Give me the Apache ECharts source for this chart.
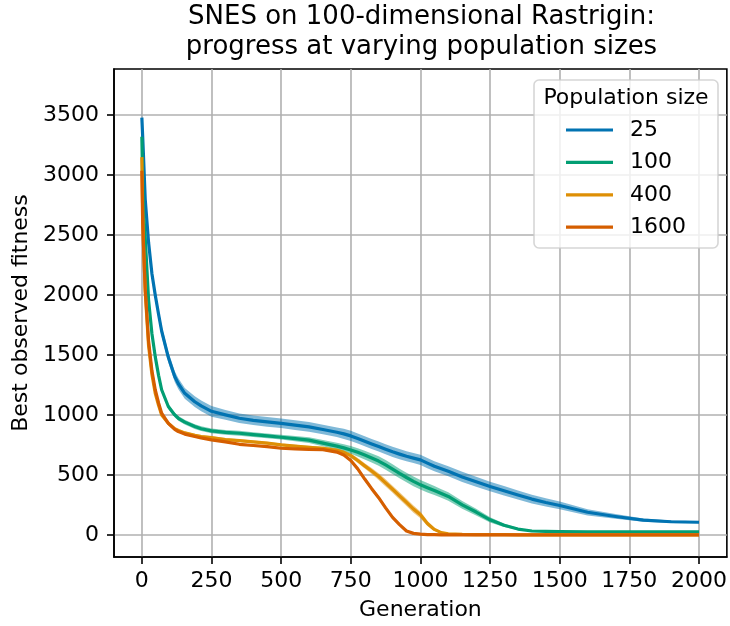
<!DOCTYPE html>
<html>
<head>
<meta charset="utf-8">
<script src="https://cdn.jsdelivr.net/npm/echarts@6/dist/echarts.min.js"></script>
<style>
html,body{margin:0;padding:0;background:#fff;}
#chart{width:730px;height:626px;}
</style>
</head>
<body>
<div id="chart"></div>
<script>
// ---- data ----
const gens = [0,3,6,12,24,36,48,60,71,95,118,131,154,190,213,250,
  300,350,400,450,500,550,600,650,700,
  725,750,775,800,825,850,875,900,925,950,975,1000,1025,1050,1075,1100,
  1150,1200,1250,1300,1350,1400,1450,1500,
  1600,1700,1800,1900,2000];

const pop25 = [3480,3320,3150,2800,2440,2180,2000,1840,1700,1480,1320,1260,1180,1110,1075,1030,
  1000,972,955,942,930,915,900,878,855,
  842,825,803,780,758,736,714,692,673,655,640,625,598,572,551,530,
  483,443,403,368,332,298,270,245,
  188,153,123,109,105];
const pop100 = [3320,2950,2700,2480,1960,1680,1486,1330,1210,1070,1000,972,940,903,885,867,
  855,847,835,825,814,803,790,765,740,
  725,708,688,665,641,615,583,548,512,478,446,417,393,370,345,320,
  250,190,125,80,48,32,28,26,
  25,25,25,25,25];
const pop400 = [3150,2700,2420,2030,1580,1340,1180,1080,1000,930,885,870,850,830,820,810,
  795,786,775,765,750,740,730,722,705,
  688,660,620,575,532,486,433,380,325,270,215,167,95,45,18,9,
  4,2,1,1,0,0,0,0,
  0,0,0,0,0];
const pop1600 = [3036,2600,2400,2050,1620,1370,1210,1100,1014,930,880,861,840,820,808,792,
  775,755,745,736,722,717,713,710,690,
  665,620,550,465,385,310,225,145,85,32,12,6,2,1,0,0,
  0,0,0,0,0,0,0,0,
  0,0,0,0,0];

// half-width of the shaded bands
const spread25 = [60,60,60,55,50,45,45,45,45,45,45,45,45,45,45,45,
  40,40,40,40,40,40,40,40,40,
  42,42,42,42,42,42,42,42,42,42,42,42,42,42,42,42,
  42,42,40,40,38,36,34,32,
  26,20,14,10,8];
const spread100 = [40,40,35,30,25,22,20,20,20,20,20,20,20,20,20,20,
  20,20,20,20,20,22,24,26,28,
  30,32,34,36,38,40,40,40,40,40,40,40,40,38,36,35,
  32,28,22,14,8,5,4,3,
  3,3,3,3,3];
const spread400 = [30,30,25,20,15,12,12,12,12,12,12,12,12,12,12,12,
  12,12,12,12,12,12,12,12,14,
  16,18,20,22,25,28,30,30,30,30,30,28,22,14,8,5,
  2,1,1,1,1,1,1,1,
  1,1,1,1,1];
const spread1600 = [20,20,15,12,10,8,8,8,8,8,8,8,8,8,8,8,
  8,8,8,8,8,8,8,8,8,
  10,12,14,15,15,15,14,12,10,8,5,3,2,1,1,1,
  1,1,1,1,1,1,1,1,
  1,1,1,1,1];

const seriesNames = ['25','100','400','1600'];
const colors = ['#0173b2','#029e73','#de8f05','#d55e00'];
const xTicks = [0,250,500,750,1000,1250,1500,1750,2000];
const yTicks = [0,500,1000,1500,2000,2500,3000,3500];

const titleText = 'SNES on 100-dimensional Rastrigin:\nprogress at varying population sizes';
const FONT = 'DejaVu Sans';

// ---- build ----
const allVals = [pop25, pop100, pop400, pop1600];
const allSpread = [spread25, spread100, spread400, spread1600];

function bandSeries(idx) {
  const vals = allVals[idx], sp = allSpread[idx];
  const data = gens.map((g, i) => [g, vals[i] - sp[i], vals[i] + sp[i]]);
  return {
    type: 'custom',
    silent: true,
    clip: true,
    z: 2 + idx * 2,
    encode: { x: 0, y: [1, 2] },
    data: data,
    renderItem: function (params, api) {
      if (params.dataIndex !== 0) return null;
      const pts = [];
      for (let i = 0; i < data.length; i++) pts.push(api.coord([data[i][0], data[i][2]]));
      for (let i = data.length - 1; i >= 0; i--) pts.push(api.coord([data[i][0], data[i][1]]));
      return {
        type: 'polygon',
        shape: { points: pts },
        style: { fill: colors[idx], opacity: 0.5 }
      };
    }
  };
}

function lineSeries(idx) {
  const vals = allVals[idx];
  return {
    name: seriesNames[idx],
    type: 'line',
    z: 3 + idx * 2,
    data: gens.map((g, i) => [g, vals[i]]),
    showSymbol: false,
    symbol: 'none',
    smooth: false,
    color: colors[idx],
    lineStyle: { width: 3.2, color: colors[idx], join: 'round', cap: 'butt' },
    emphasis: { disabled: true },
    animation: false
  };
}

const series = [];
for (let i = 0; i < 4; i++) { series.push(bandSeries(i)); series.push(lineSeries(i)); }

const plain = v => String(v);

const chart = echarts.init(document.getElementById('chart'), null, { renderer: 'canvas' });
chart.setOption({
  animation: false,
  backgroundColor: '#ffffff',
  textStyle: { fontFamily: FONT },
  grid: { left: 114, right: 1, top: 69, bottom: 68, show: true, borderColor: '#000', borderWidth: 1.6, backgroundColor: 'transparent' },
  xAxis: {
    type: 'value', min: -100, max: 2100,
    name: 'Generation', nameLocation: 'middle', nameGap: 42,
    nameTextStyle: { fontSize: 22, color: '#000', fontFamily: FONT },
    axisLine: { show: true, onZero: false, lineStyle: { color: '#000', width: 1.6 } },
    axisTick: { show: true, length: 7, customValues: xTicks, lineStyle: { color: '#000', width: 1.6 } },
    axisLabel: { customValues: xTicks, formatter: plain, fontSize: 22, color: '#000', fontFamily: FONT, margin: 13 },
    splitLine: { show: true, lineStyle: { color: '#b0b0b0', width: 1.6 } }
  },
  yAxis: {
    type: 'value', min: -185, max: 3885,
    name: 'Best observed fitness', nameLocation: 'middle', nameGap: 82,
    nameTextStyle: { fontSize: 22, color: '#000', fontFamily: FONT },
    axisLine: { show: true, onZero: false, lineStyle: { color: '#000', width: 1.6 } },
    axisTick: { show: true, length: 7, customValues: yTicks, lineStyle: { color: '#000', width: 1.6 } },
    axisLabel: { customValues: yTicks, formatter: plain, fontSize: 22, color: '#000', fontFamily: FONT, margin: 15 },
    splitLine: { show: true, lineStyle: { color: '#b0b0b0', width: 1.6 } }
  },
  legend: {
    data: seriesNames,
    orient: 'vertical',
    left: 566, top: 118,
    padding: 0,
    itemWidth: 47, itemHeight: 3.2, itemGap: 8.4,
    icon: 'rect',
    z: 20,
    selectedMode: false,
    textStyle: { fontSize: 22, lineHeight: 24, color: '#000', fontFamily: FONT, padding: [0, 0, 0, 12] }
  },
  graphic: [
    {
      type: 'text', z: 30,
      style: { x: 421.5, y: 2, text: titleText, fill: '#000', font: '26px "DejaVu Sans"', lineHeight: 30, textAlign: 'center', textVerticalAlign: 'top' }
    },
    {
      type: 'rect', z: 10,
      shape: { x: 534, y: 80, width: 184, height: 168, r: 5 },
      style: { fill: 'rgba(255,255,255,0.8)', stroke: 'rgba(204,204,204,0.8)', lineWidth: 1.6 }
    },
    {
      type: 'text', z: 30,
      style: { x: 626, y: 98, text: 'Population size', fill: '#000', font: '22px "DejaVu Sans"', textAlign: 'center', textVerticalAlign: 'middle' }
    }
  ],
  series: series
});
</script>
</body>
</html>
